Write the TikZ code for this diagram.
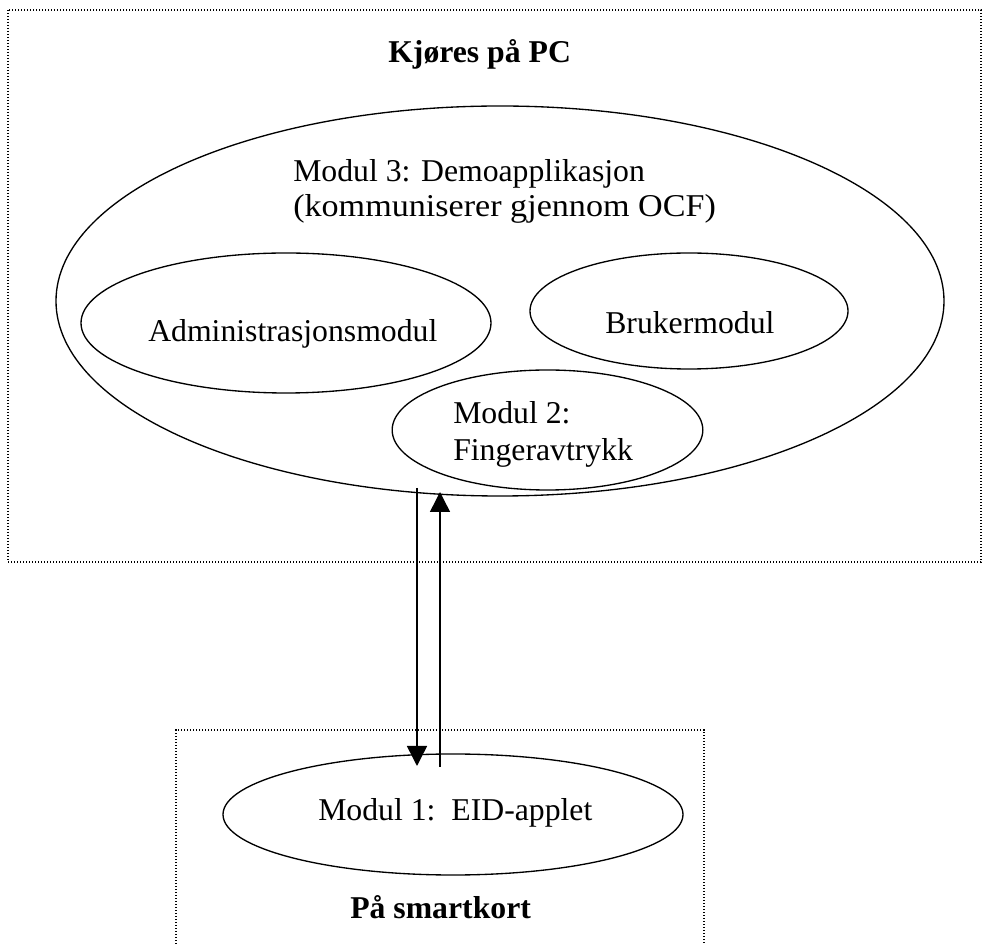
\documentclass[tikz,border=0pt]{standalone}
\usepackage{fontspec}
\setmainfont{Liberation Serif}
\usetikzlibrary{shapes.geometric,arrows.meta}
\begin{document}
\begin{tikzpicture}[x=0.75pt,y=-0.75pt,
  oval/.style={draw,ellipse,line width=1pt,inner sep=0pt},
  zone/.style={line width=0.9pt,dash pattern=on 1pt off 1.25pt},
  lbl/.style={anchor=base west,inner sep=0pt,font=\fontsize{23.8}{27}\selectfont},
  flow/.style={line width=1.1pt,-{Triangle[width=15pt,length=15pt]}}]
\useasboundingbox (0,0) rectangle (983,944);

% computer zone and smart card zone
\draw[zone] (8,10) rectangle (981,562);
\draw[zone] (176,944) |- (704,730) -- (704,944);

% modules
\node[oval,minimum width=666pt,minimum height=292.5pt] (m3) at (500,301) {};
\node[oval,minimum width=307.5pt,minimum height=105pt] (adm) at (286,323) {};
\node[oval,minimum width=238.5pt,minimum height=87pt] (bru) at (689,311) {};
\node[oval,minimum width=233pt,minimum height=90pt] (m2) at (547.5,430) {};
\node[oval,minimum width=345pt,minimum height=90.75pt] (m1) at (453,814.5) {};

% labels
\node[lbl,font=\fontsize{23.8}{27}\selectfont\bfseries] (tpc) at (388,63) {Kjøres på PC};
\node[lbl] (t3a) at (293,182) {Modul 3: Demoapplikasjon};
\node[lbl] (t3b) at (293,217) {\scalebox{1.075}[1]{(kommuniserer gjennom OCF)}};
\node[lbl] (tadm) at (148,342) {Administrasjonsmodul};
\begin{scope}
  \clip (600,270) rectangle (800,336);
  \node[lbl] (tbru) at (605,334) {Brukermodul};
\end{scope}
\node[lbl] (t2a) at (453,424) {Modul 2:};
\begin{scope}
  \clip (440,430) rectangle (700,468);
  \node[lbl] (t2b) at (453,461) {Fingeravtrykk};
\end{scope}
\node[lbl] (t1) at (318,821) {Modul 1:\ \ EID-applet};
\node[lbl,font=\fontsize{23.8}{27}\selectfont\bfseries] (tsk) at (350,919) {På smartkort};

% communication between PC and card
\coordinate (dn0) at (417,488);
\coordinate (dn1) at (417,766);
\coordinate (up0) at (440,767);
\coordinate (up1) at (440,492);
\draw[flow] (dn0) -- (dn1);
\draw[flow] (up0) -- (up1);
\end{tikzpicture}
\end{document}
